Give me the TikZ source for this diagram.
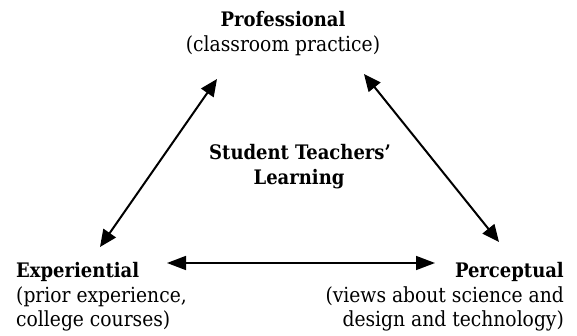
\documentclass[tikz,border=0pt]{standalone}
\usepackage{fontspec}
\setmainfont{DejaVu Serif Condensed}
\usetikzlibrary{arrows.meta}
\begin{document}
\begin{tikzpicture}[x=1pt,y=-1pt,
  lbl/.style={inner sep=0pt,font=\fontsize{20.8}{24}\selectfont},
  head/.style={inner sep=0pt,font=\fontsize{20}{24}\selectfont\bfseries},
  link/.style={line width=2pt,{Triangle[length=17pt,width=15pt]}-{Triangle[length=17pt,width=15pt]}},
  hlink/.style={line width=1.6pt,{Triangle[length=19pt,width=14pt]}-{Triangle[length=19pt,width=14pt]}}]
\useasboundingbox (0,0) rectangle (577,336);
% top
\node[head,anchor=base] (prof) at (283,27) {Professional};
\node[lbl,anchor=base] (profsub) at (283,52) {(classroom practice)};
% centre
\node[head,anchor=base] (stu1) at (300,160) {Student Teachers’};
\node[head,anchor=base] (stu2) at (299,185) {Learning};
% left
\node[head,anchor=base west] (exp) at (16,277) {Experiential};
\node[lbl,anchor=base west] (exp1) at (16,302) {(prior experience,};
\node[lbl,anchor=base west] (exp2) at (16,326) {college courses)};
% right
\node[head,anchor=base east] (per) at (564,277) {Perceptual};
\node[lbl,anchor=base east] (per1) at (564,302) {(views about science and};
\node[lbl,anchor=base east] (per2) at (564,326) {design and technology)};
% arrow ends
\coordinate (a1) at (100,247);
\coordinate (a2) at (217,79);
\coordinate (b1) at (364,74);
\coordinate (b2) at (499,242);
\coordinate (c1) at (167,263);
\coordinate (c2) at (435,263);
\draw[link] (a1) -- (a2);
\draw[link] (b1) -- (b2);
\draw[hlink] (c1) -- (c2);
\end{tikzpicture}
\end{document}
